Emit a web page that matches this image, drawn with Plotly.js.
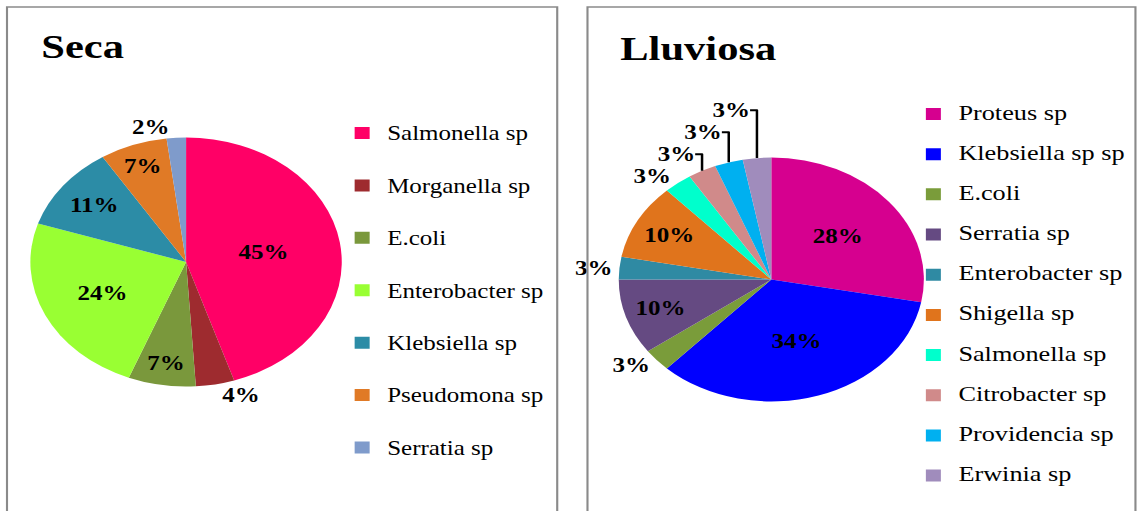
<!DOCTYPE html>
<html><head><meta charset="utf-8">
<script src="https://cdn.plot.ly/plotly-3.0.1.min.js"></script>
<style>
html,body{margin:0;padding:0;background:#fff;overflow:hidden;}
#wrap{width:1138px;height:511px;overflow:hidden;}
#chart{width:910px;height:511px;transform:scaleX(1.2505);transform-origin:0 0;}
</style></head><body><div id="wrap"><div id="chart"></div></div>
<script>
// ---- data ----
const secaTitle = 'Seca';
const secaLabels = ['Salmonella sp','Morganella sp','E.coli','Enterobacter sp','Klebsiella sp','Pseudomona sp','Serratia sp'];
const secaValues = [45, 4, 7, 24, 11, 7, 2];

const lluTitle = 'Lluviosa';
const lluLabels = ['Proteus sp','Klebsiella sp sp','E.coli','Serratia sp','Enterobacter sp','Shigella sp','Salmonella sp','Citrobacter sp','Providencia sp','Erwinia sp'];
const lluValues = [28, 34, 3, 10, 3, 10, 3, 3, 3, 3];

// ---- styles ----
const secaColors = ['#FF0066','#9E2B2F','#7A983C','#99FF33','#2C8CA6','#E07A26','#7F9BCB'];
const lluColors = ['#D6008F','#0000FF','#7A9C3A','#654A82','#2F8AA3','#E0741C','#00FFCC','#D08A8A','#00B0F0','#A08CBC'];
const secaTextPos = ['inside','outside','inside','inside','inside','inside','outside'];
const lluTextPos = ['inside','inside','outside','inside','outside','inside','outside','outside','outside','outside'];

const W = 910, H = 511;
const serif = 'Liberation Serif, Times New Roman, serif';

function legendLabels(arr, px) {
  return arr.map(s => '<span style="font-size:' + px + 'px">' + s + '</span><br> ');
}

const pieText = {family: serif, size: 20, color: '#000', weight: 'bold'};

const traces = [
  {
    type: 'pie', labels: legendLabels(secaLabels, 20), values: secaValues,
    sort: false, direction: 'clockwise', rotation: 0,
    marker: {colors: secaColors, line: {width: 0}},
    textinfo: 'percent', textposition: secaTextPos,
    insidetextorientation: 'horizontal',
    textfont: pieText, insidetextfont: pieText, outsidetextfont: pieText,
    domain: {x: [24.3 / W, 273.3 / W], y: [1 - 386.5 / H, 1 - 137.5 / H]},
    legend: 'legend', hoverinfo: 'none'
  },
  {
    type: 'pie', labels: legendLabels(lluLabels, 21), values: lluValues,
    sort: false, direction: 'clockwise', rotation: 0,
    marker: {colors: lluColors, line: {width: 0}},
    textinfo: 'percent', textposition: lluTextPos,
    insidetextorientation: 'horizontal',
    textfont: pieText, insidetextfont: pieText, outsidetextfont: pieText,
    domain: {x: [494.8 / W, 738.8 / W], y: [1 - 401.5 / H, 1 - 157.5 / H]},
    legend: 'legend2', hoverinfo: 'none'
  }
];

const borderLine = {color: '#8a8a8a', width: 1.7};
const layout = {
  width: W, height: H,
  margin: {l: 0, r: 0, t: 0, b: 0},
  paper_bgcolor: '#fff', plot_bgcolor: '#fff',
  font: {family: serif, color: '#000'},
  showlegend: true,
  legend: {
    x: 269.6 / W, y: 1 - 114.2 / H, xanchor: 'left', yanchor: 'top',
    font: {family: serif, size: 19, color: '#000'},
    valign: 'top', bgcolor: 'rgba(0,0,0,0)', traceorder: 'normal'
  },
  legend2: {
    x: 726.4 / W, y: 1 - 98.2 / H, xanchor: 'left', yanchor: 'top',
    font: {family: serif, size: 14.3, color: '#000'},
    valign: 'top', bgcolor: 'rgba(0,0,0,0)', traceorder: 'normal'
  },
  annotations: [
    {text: '<b>' + secaTitle + '</b>', xref: 'paper', yref: 'paper', x: 31 / W, y: 1 - 46 / H,
     xanchor: 'left', yanchor: 'middle', showarrow: false, font: {family: serif, size: 34, color: '#000'}},
    {text: '<b>' + lluTitle + '</b>', xref: 'paper', yref: 'paper', x: 493.5 / W, y: 1 - 48.8 / H,
     xanchor: 'left', yanchor: 'middle', showarrow: false, font: {family: serif, size: 34, color: '#000'}}
  ],
  shapes: [
    {type: 'rect', xref: 'paper', yref: 'paper', x0: 5.6 / W, x1: 445.6 / W, y0: -0.05, y1: 1 - 7 / H, line: borderLine, fillcolor: 'rgba(0,0,0,0)'},
    {type: 'rect', xref: 'paper', yref: 'paper', x0: 469.8 / W, x1: 908 / W, y0: -0.05, y1: 1 - 7 / H, line: borderLine, fillcolor: 'rgba(0,0,0,0)'}
  ]
};

Plotly.newPlot('chart', traces, layout, {staticPlot: true, displayModeBar: false});
</script></body></html>
